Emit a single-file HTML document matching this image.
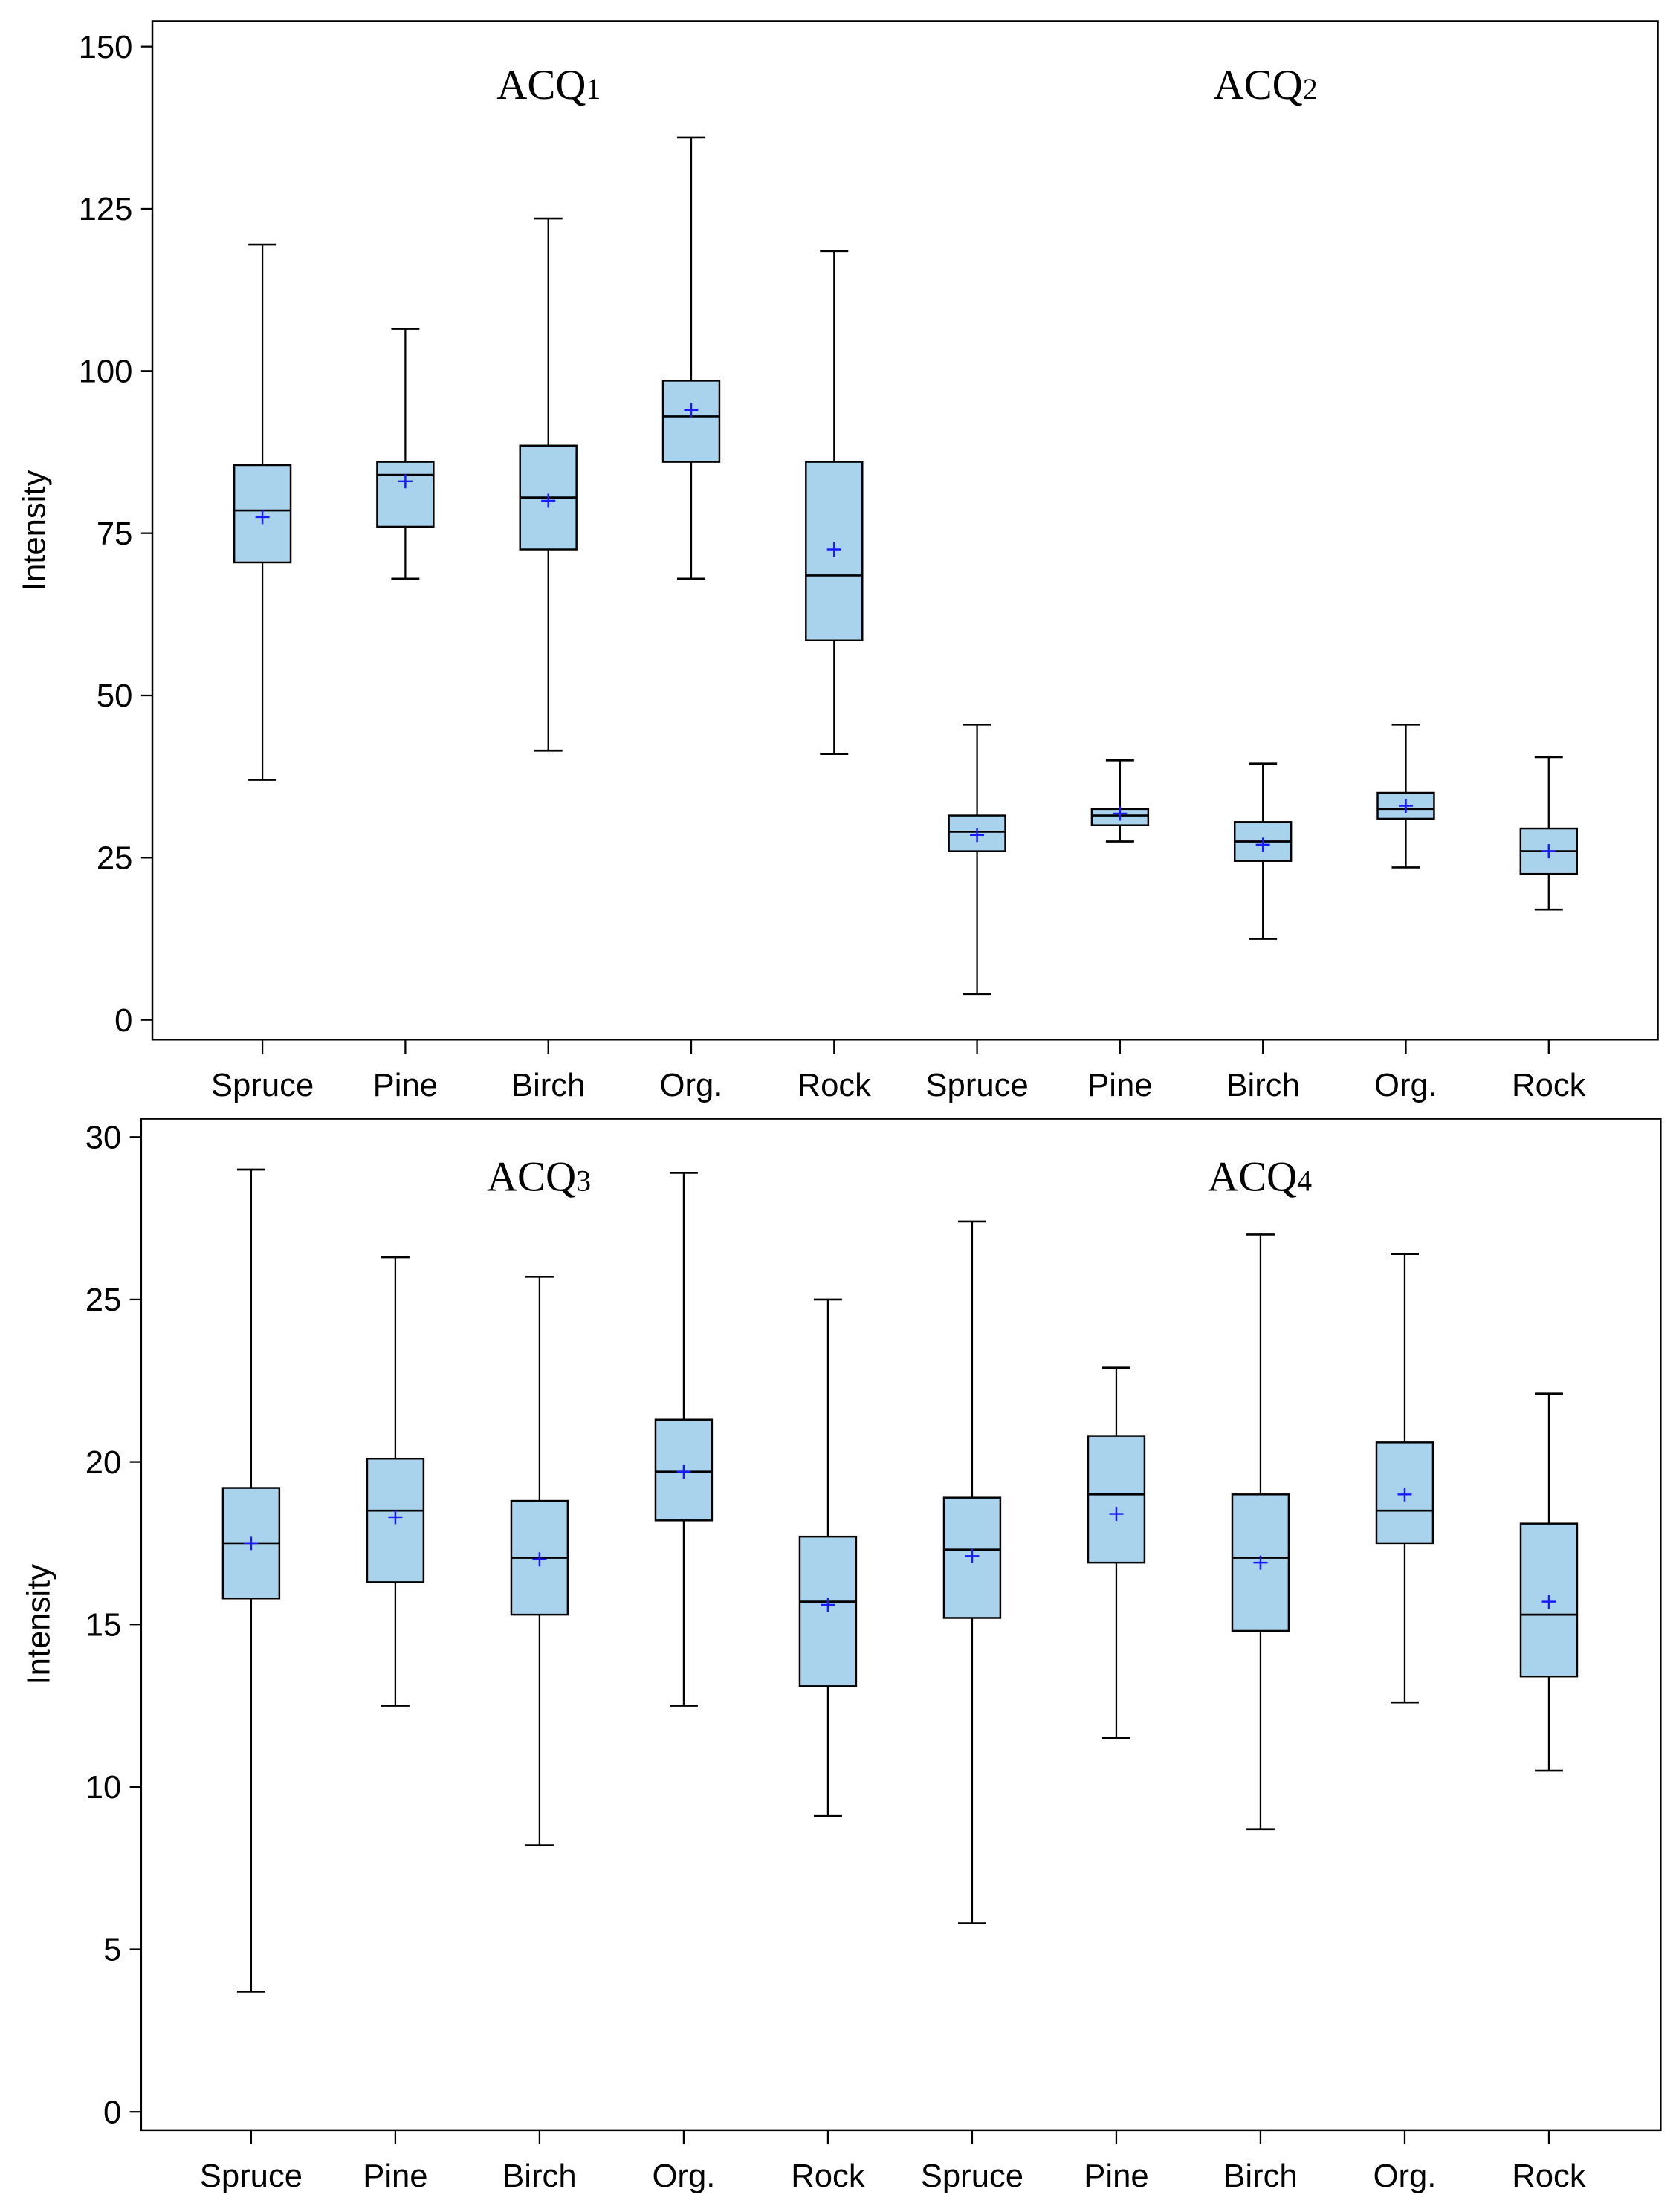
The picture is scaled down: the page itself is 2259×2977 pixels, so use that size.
<!DOCTYPE html>
<html><head><meta charset="utf-8"><style>
html,body{margin:0;padding:0;background:#fff}
svg{display:block}
text{font-family:"Liberation Sans",sans-serif}
</style></head><body>
<svg id="chart" width="2259" height="2977" viewBox="0 0 1190 1568" preserveAspectRatio="none" xmlns="http://www.w3.org/2000/svg"></svg>
<script>
const categories = ["Spruce","Pine","Birch","Org.","Rock","Spruce","Pine","Birch","Org.","Rock"];
// top panel (ACQ1, ACQ2)
const topWhiskLo = [37,68,41.5,68,41,4,27.5,12.5,23.5,17];
const topWhiskHi = [119.5,106.5,123.5,136,118.5,45.5,40,39.5,45.5,40.5];
const topQ1 = [70.5,76,72.5,86,58.5,26,30,24.5,31,22.5];
const topQ3 = [85.5,86,88.5,98.5,86,31.5,32.5,30.5,35,29.5];
const topMedian = [78.5,84,80.5,93,68.5,29,31.5,27.5,32.5,26];
const topMean = [77.5,83,80,94,72.5,28.5,31.8,27,33,26];
const topTicks = [0,25,50,75,100,125,150];
// bottom panel (ACQ3, ACQ4)
const botWhiskLo = [3.7,12.5,8.2,12.5,9.1,5.8,11.5,8.7,12.6,10.5];
const botWhiskHi = [29,26.3,25.7,28.9,25,27.4,22.9,27,26.4,22.1];
const botQ1 = [15.8,16.3,15.3,18.2,13.1,15.2,16.9,14.8,17.5,13.4];
const botQ3 = [19.2,20.1,18.8,21.3,17.7,18.9,20.8,19,20.6,18.1];
const botMedian = [17.5,18.5,17.05,19.7,15.7,17.3,19,17.05,18.5,15.3];
const botMean = [17.5,18.3,17,19.7,15.6,17.1,18.4,16.9,19,15.7];
const botTicks = [0,5,10,15,20,25,30];

const NS="http://www.w3.org/2000/svg";
const svg=document.getElementById('chart');
function mk(tag,attrs,parent){const e=document.createElementNS(NS,tag);for(const k in attrs)e.setAttribute(k,attrs[k]);(parent||svg).appendChild(e);return e;}

function panel(cfg){
  const g=mk('g',{});
  
  
  const y=v=>cfg.y0+(v-cfg.vmin)/(cfg.vmax-cfg.vmin)*(cfg.y1-cfg.y0);
  const x=i=>cfg.x0+i*cfg.dx;
  const fr=mk('rect',{x:cfg.L,y:cfg.T,width:cfg.R-cfg.L,height:cfg.B-cfg.T,fill:'none',stroke:'#000','stroke-width':1.3},g);
  
  
  cfg.ticks.forEach(t=>{
    mk('line',{x1:cfg.L-8,x2:cfg.L,y1:y(t),y2:y(t),stroke:'#000','stroke-width':1.2},g);
    const tx=mk('text',{x:cfg.L-14,y:y(t)+8,'text-anchor':'end','font-size':23},g);
    tx.textContent=t;
    
    
  });
  const yt=mk('text',{x:0,y:0,'text-anchor':'middle','font-size':23,transform:`translate(${cfg.ytx},${(cfg.T+cfg.B)/2}) rotate(-90)`},g);
  yt.textContent='Intensity';
  
  
  categories.forEach((c,i)=>{
    const cx=x(i);
    mk('line',{x1:cx,x2:cx,y1:cfg.B,y2:cfg.B+10,stroke:'#000','stroke-width':1.2},g);
    const tx=mk('text',{x:cx,y:cfg.B+40,'text-anchor':'middle','font-size':23},g);
    tx.textContent=c;
    
    
    const bg=mk('g',{},g);
    
    
    const d=cfg.d;
    mk('line',{x1:cx,x2:cx,y1:y(d.hi[i]),y2:y(d.q3[i]),stroke:'#000','stroke-width':1.2},bg);
    mk('line',{x1:cx,x2:cx,y1:y(d.q1[i]),y2:y(d.lo[i]),stroke:'#000','stroke-width':1.2},bg);
    mk('line',{x1:cx-10,x2:cx+10,y1:y(d.hi[i]),y2:y(d.hi[i]),stroke:'#000','stroke-width':1.4},bg);
    mk('line',{x1:cx-10,x2:cx+10,y1:y(d.lo[i]),y2:y(d.lo[i]),stroke:'#000','stroke-width':1.4},bg);
    mk('rect',{x:cx-20,y:y(d.q3[i]),width:40,height:y(d.q1[i])-y(d.q3[i]),fill:'#a9d3ec',stroke:'#000','stroke-width':1.3},bg);
    mk('line',{x1:cx-20,x2:cx+20,y1:y(d.med[i]),y2:y(d.med[i]),stroke:'#000','stroke-width':1.4},bg);
    const my=y(d.mean[i]);
    mk('path',{d:`M${cx-5},${my}H${cx+5}M${cx},${my-5}V${my+5}`,stroke:'#1a1aff','stroke-width':1.3},bg);
  });
  [[cfg.t1x,cfg.g1n],[cfg.t2x,cfg.g2n]].forEach(([tx,n])=>{
    const t=mk('text',{x:tx,y:cfg.ty,'font-size':30,style:'font-family:"Liberation Serif",serif'},g);
    
    
    t.appendChild(document.createTextNode('ACQ'));
    const s=mk('tspan',{'font-size':21},t);s.textContent=n;
  });
}

panel({name:'top-panel',L:108,R:1175,T:15,B:737,y0:723,y1:33,vmin:0,vmax:150,x0:186,dx:101.3,ytx:32,ticks:topTicks,
  g1:'acq1',g2:'acq2',g1n:'1',g2n:'2',t1x:352,t2x:860,ty:70,
  d:{lo:topWhiskLo,hi:topWhiskHi,q1:topQ1,q3:topQ3,med:topMedian,mean:topMean}});
panel({name:'bottom-panel',L:100,R:1177,T:793,B:1510,y0:1497,y1:806,vmin:0,vmax:30,x0:178,dx:102.2,ytx:35,ticks:botTicks,
  g1:'acq3',g2:'acq4',g1n:'3',g2n:'4',t1x:345,t2x:856,ty:844,
  d:{lo:botWhiskLo,hi:botWhiskHi,q1:botQ1,q3:botQ3,med:botMedian,mean:botMean}});
</script>
</body></html>
